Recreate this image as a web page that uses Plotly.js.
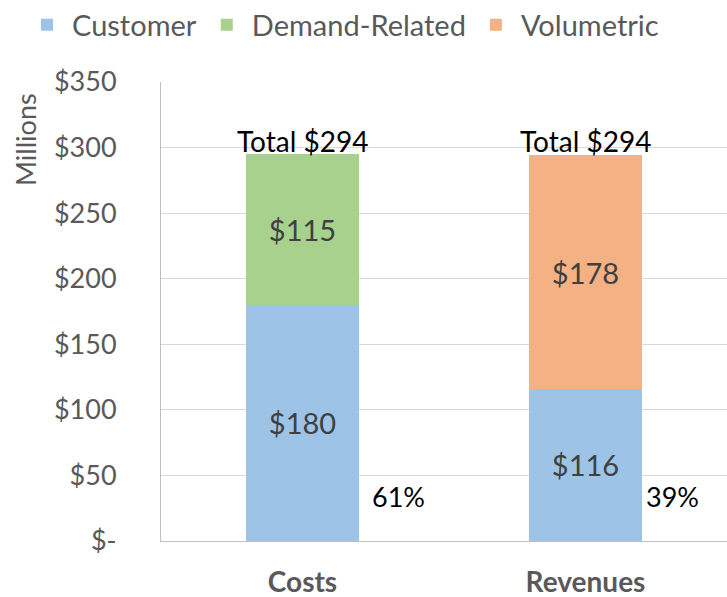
<!DOCTYPE html>
<html><head><meta charset="utf-8">
<script src="https://cdn.plot.ly/plotly-3.0.1.min.js"></script>
<style>html,body{margin:0;padding:0;background:#fff}#chart{width:727px;height:597px}</style>
</head><body><div id="chart"></div>
<script>
const categories = ["Costs", "Revenues"];
const customer = [180, 116];
const demandRelated = [115, null];
const volumetric = [null, 178];
const totals = [294, 294];
const customerShare = ["61%", "39%"];
const yTickVals = [0, 50, 100, 150, 200, 250, 300, 350];
const yTickText = ["$-", "$50", "$100", "$150", "$200", "$250", "$300", "$350"];

const FONT = "Lato, 'Open Sans', sans-serif";
const fmt = v => (v == null ? "" : "$" + v);

const traces = [
  {name: "Customer", x: categories, y: customer, marker: {color: "#9DC3E6"},
   text: customer.map(fmt)},
  {name: "Demand-Related", x: categories, y: demandRelated, marker: {color: "#A9D18E"},
   text: demandRelated.map(fmt)},
  {name: "Volumetric", x: categories, y: volumetric, marker: {color: "#F4B183"},
   text: volumetric.map(fmt)}
].map(t => Object.assign({type: "bar", textposition: "inside", insidetextanchor: "middle",
  textfont: {family: FONT, size: 29, color: "#404040"}, hoverinfo: "skip", cliponaxis: false}, t));

const L = 161, T = 82, W = 566, H = 459;
const annotations = [];
categories.forEach((c, i) => {
  annotations.push({x: c, y: totals[i], xref: "x", yref: "y", text: "Total " + fmt(totals[i]),
    showarrow: false, yanchor: "bottom", xanchor: "center", yshift: -5,
    font: {family: FONT, size: 28, color: "#000"}});
  annotations.push({x: i + 0.2, y: 34, xref: "x", yref: "y", text: customerShare[i],
    showarrow: false, xanchor: "left", yanchor: "middle", xshift: i === 0 ? 11 : 2,
    font: {family: FONT, size: 27, color: "#000"}});
});
annotations.push({x: (25 - L) / W, y: 1 - (140 - T) / H, xref: "paper", yref: "paper",
  text: "Millions", textangle: -90, showarrow: false, xanchor: "center", yanchor: "middle",
  font: {family: FONT, size: 27, color: "#595959"}});

const layout = {
  width: 727, height: 597,
  margin: {l: L, r: 0, t: T, b: 597 - T - H, pad: 0, autoexpand: false},
  paper_bgcolor: "#fff", plot_bgcolor: "#fff",
  barmode: "stack", bargap: 0.6,
  font: {family: FONT, color: "#595959"},
  showlegend: true,
  legend: {orientation: "h", traceorder: "normal", xref: "paper", x: (22 - L) / W, xanchor: "left",
    yref: "paper", y: 1 + (T - 25) / H, yanchor: "middle",
    font: {family: FONT, size: 29, color: "#595959"}, itemwidth: 40},
  xaxis: {type: "category", range: [-0.5, 1.5], showgrid: false, showline: true,
    linecolor: "#BFBFBF", linewidth: 1, ticks: "",
    tickfont: {family: FONT, size: 28, color: "#595959", weight: "bold"},
    ticklabelstandoff: 16, zeroline: false},
  yaxis: {range: [0, 350], tickvals: yTickVals, ticktext: yTickText, showgrid: true,
    gridcolor: "#D9D9D9", gridwidth: 1, showline: true, linecolor: "#BFBFBF", linewidth: 1,
    zeroline: false, ticks: "", ticklabelstandoff: 38,
    tickfont: {family: FONT, size: 27, color: "#595959"}},
  annotations: annotations
};
Plotly.newPlot("chart", traces, layout, {displayModeBar: false, staticPlot: true});
</script></body></html>
